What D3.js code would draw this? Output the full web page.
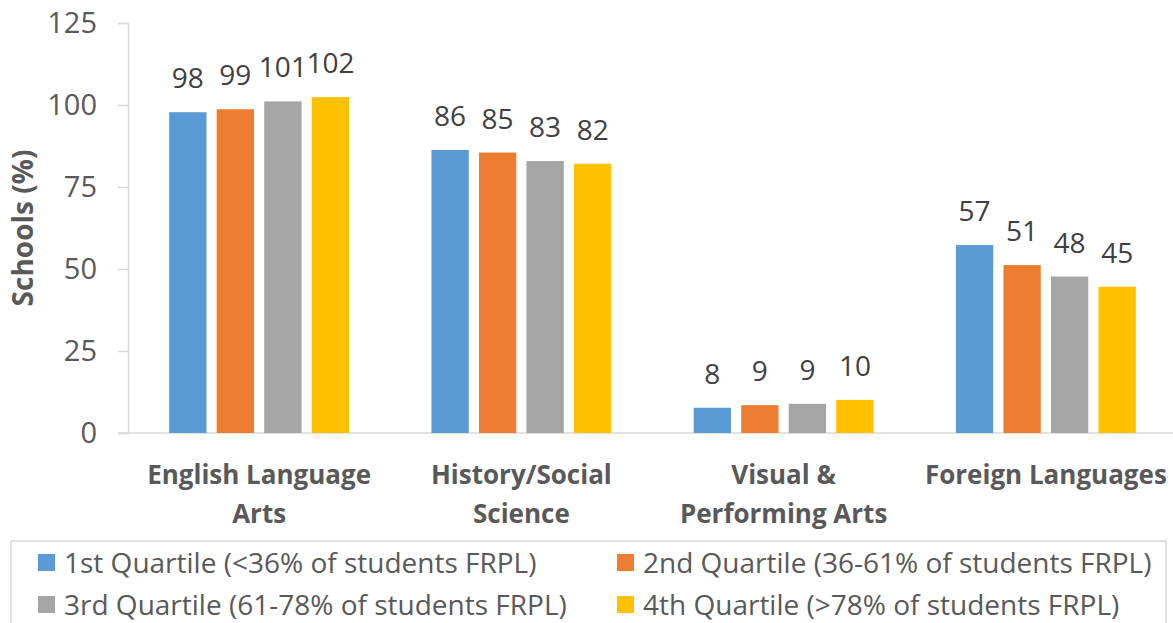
<!DOCTYPE html>
<html>
<head>
<meta charset="utf-8">
<script src="https://cdn.jsdelivr.net/npm/d3@7"></script>
<style>
  html, body { margin: 0; padding: 0; background: #fff; }
  svg { display: block; }
  text { font-family: "Open Sans", sans-serif; }
</style>
</head>
<body>
<svg id="chart" width="1173" height="623"></svg>
<script>
const categories = [["English Language", "Arts"], ["History/Social", "Science"], ["Visual &", "Performing Arts"], ["Foreign Languages"]];
const seriesNames = [
  "1st Quartile (<36% of students FRPL)",
  "2nd Quartile (36-61% of students FRPL)",
  "3rd Quartile (61-78% of students FRPL)",
  "4th Quartile (>78% of students FRPL)"
];
const q1Values = [97.8, 86.3, 7.7, 57.3];
const q2Values = [98.7, 85.5, 8.5, 51.2];
const q3Values = [101.1, 82.9, 8.9, 47.7];
const q4Values = [102.4, 82.1, 10.1, 44.6];
const seriesLabels = [
  ["98", "86", "8", "57"],
  ["99", "85", "9", "51"],
  ["101", "83", "9", "48"],
  ["102", "82", "10", "45"]
];
const yTicks = [0, 25, 50, 75, 100, 125];
const yTitle = "Schools (%)";
const colors = ["#5B9BD5", "#ED7D31", "#A5A5A5", "#FFC000"];

const seriesValues = [q1Values, q2Values, q3Values, q4Values];
const svg = d3.select("#chart");

const catKeys = categories.map(c => c.join(" "));
const x0 = d3.scaleBand().domain(catKeys).range([128, 1177]).paddingInner(0.314).paddingOuter(0.157);
const x1 = d3.scaleBand().domain(d3.range(4)).range([0, x0.bandwidth()]).paddingInner(0.215);
const y = d3.scaleLinear().domain([0, 125]).range([433, 23]);

// Y axis
const yAxis = svg.append("g").attr("transform", "translate(128,0)")
  .call(d3.axisLeft(y).tickValues(yTicks).tickSize(10).tickPadding(21));
yAxis.attr("font-size", null).attr("font-family", null);
yAxis.select(".domain").attr("stroke", "#D9D9D9").attr("stroke-width", 1.5);
yAxis.selectAll(".tick line").attr("stroke", "#D9D9D9").attr("stroke-width", 1.5);
yAxis.selectAll(".tick text").attr("fill", "#595959").style("font-size", "29px")
  .style("font-family", "'Open Sans', sans-serif");

// X axis baseline
svg.append("line").attr("x1", 118).attr("x2", 1173).attr("y1", y(0)).attr("y2", y(0))
  .attr("stroke", "#D9D9D9").attr("stroke-width", 1.5);

// Bars
seriesValues.forEach((vals, si) => {
  const g = svg.append("g");
  g.selectAll("rect").data(vals).enter().append("rect")
    .attr("x", (d, i) => x0(catKeys[i]) + x1(si))
    .attr("width", x1.bandwidth())
    .attr("y", d => y(d))
    .attr("height", d => y(0) - y(d))
    .attr("fill", colors[si]);
  g.selectAll("text").data(vals).enter().append("text")
    .attr("x", (d, i) => x0(catKeys[i]) + x1(si) + x1.bandwidth() / 2)
    .attr("y", d => y(d) - 24)
    .attr("text-anchor", "middle")
    .attr("fill", "#404040")
    .style("font-size", "28px")
    .text((d, i) => seriesLabels[si][i]);
});

// Category labels
categories.forEach((lines, i) => {
  const cx = x0(catKeys[i]) + x0.bandwidth() / 2;
  const t = svg.append("text").attr("text-anchor", "middle").attr("fill", "#595959")
    .style("font-size", "26px").style("font-weight", "bold");
  lines.forEach((ln, li) => {
    t.append("tspan").attr("x", cx).attr("y", 484 + li * 39).text(ln);
  });
});

// Y title
svg.append("text")
  .attr("transform", "translate(33,228) rotate(-90)")
  .attr("text-anchor", "middle")
  .attr("fill", "#595959")
  .style("font-size", "28px").style("font-weight", "bold")
  .text(yTitle);

// Legend
svg.append("rect").attr("x", 11).attr("y", 541).attr("width", 1155).attr("height", 100)
  .attr("fill", "none").attr("stroke", "#D9D9D9").attr("stroke-width", 1.5);
const legendPos = [[38, 554], [617, 554], [38, 596], [617, 596]];
seriesNames.forEach((name, i) => {
  const [lx, ly] = legendPos[i];
  svg.append("rect").attr("x", lx).attr("y", ly).attr("width", 17).attr("height", 17).attr("fill", colors[i]);
  svg.append("text").attr("x", lx + 26).attr("y", ly + 19).attr("fill", "#595959")
    .style("font-size", "28px").text(name);
});
</script>
</body>
</html>
